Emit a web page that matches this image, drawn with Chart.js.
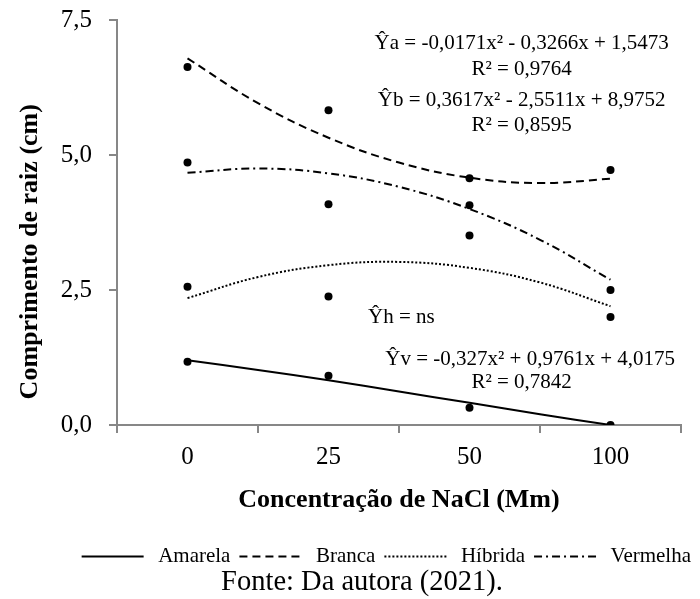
<!DOCTYPE html>
<html>
<head>
<meta charset="utf-8">
<script src="https://cdn.jsdelivr.net/npm/chart.js@4.4.0/dist/chart.umd.min.js"></script>
<style>
  html, body { margin: 0; padding: 0; background: #fff; }
  #wrap { width: 700px; height: 599px; }
</style>
</head>
<body>
<div id="wrap"><canvas id="chart"></canvas></div>
<script>
// categorias do eixo x
var concentracoes = ['0', '25', '50', '100'];

// medias observadas (cm)
var amarela  = [1.17, 0.91, 0.32, 0.00];
var branca   = [6.63, 5.83, 4.57, 4.72];
var hibrida  = [2.56, 2.38, 3.51, 2.00];
var vermelha = [4.86, 4.09, 4.07, 2.50];

// curvas de tendencia (posicoes 1..4 das categorias)
var trendX        = [1, 1.5, 2, 2.5, 3, 3.5, 4];
var trendAmarela  = [1.20, 1.02, 0.83, 0.62, 0.41, 0.20, 0.00];
var trendBranca   = [6.79, 5.96, 5.32, 4.86, 4.58, 4.48, 4.56];
var trendHibrida  = [2.35, 2.74, 2.96, 3.02, 2.91, 2.64, 2.20];
var trendVermelha = [4.67, 4.75, 4.66, 4.41, 4.00, 3.43, 2.69];

var equacoes = [
  '\u0176a = -0,0171x\u00b2 - 0,3266x + 1,5473',
  'R\u00b2 = 0,9764',
  '\u0176b = 0,3617x\u00b2 - 2,5511x + 8,9752',
  'R\u00b2 = 0,8595',
  '\u0176h = ns',
  '\u0176v = -0,327x\u00b2 + 0,9761x + 4,0175',
  'R\u00b2 = 0,7842'
];

var serif = "'Liberation Serif', 'Times New Roman', serif";
var axisGrey = '#878787';

function pairs(xs, ys) {
  return ys.map(function(y, i) { return {x: xs[i], y: y}; });
}
var catX = concentracoes.map(function(c, i) { return i + 1; });

function trend(label, xs, ys, dash) {
  return {
    type: 'line', label: label, data: pairs(xs, ys),
    borderColor: '#000', backgroundColor: 'transparent',
    borderWidth: 2, borderDash: dash, tension: 0.4,
    pointRadius: 0, fill: false
  };
}
function dots(label, ys) {
  return {
    type: 'scatter', label: label, data: pairs(catX, ys),
    backgroundColor: '#000', borderColor: '#000',
    pointRadius: 4, borderWidth: 0, showLine: false
  };
}

// posicoes dos textos das equacoes (em coordenadas do grafico)
var eqPos = [
  {x: 3.37, y: 7.07, align: 'center'},
  {x: 3.37, y: 6.59, align: 'center'},
  {x: 3.37, y: 6.01, align: 'center'},
  {x: 3.37, y: 5.54, align: 'center'},
  {x: 2.28, y: 2.00, align: 'left'},
  {x: 3.43, y: 1.22, align: 'center'},
  {x: 3.37, y: 0.79, align: 'center'}
];

var equationLabels = {
  id: 'equationLabels',
  afterDatasetsDraw: function(chart) {
    var ctx = chart.ctx, xs = chart.scales.x, ys = chart.scales.y;
    ctx.save();
    ctx.font = '21px ' + serif;
    ctx.fillStyle = '#000';
    ctx.textBaseline = 'middle';
    equacoes.forEach(function(eq, i) {
      var p = eqPos[i];
      ctx.textAlign = p.align;
      ctx.fillText(eq, xs.getPixelForValue(p.x), ys.getPixelForValue(p.y));
    });
    ctx.restore();
  }
};

// amostras de linha da legenda, com o tracejado de cada serie
var legendLines = {
  id: 'legendLines',
  afterDraw: function(chart) {
    var lg = chart.legend;
    if (!lg || !lg.legendHitBoxes) return;
    var c = chart.ctx;
    lg.legendItems.forEach(function(item, i) {
      var box = lg.legendHitBoxes[i];
      var ds = chart.data.datasets[item.datasetIndex];
      var y = box.top + box.height / 2;
      c.save();
      c.strokeStyle = ds.borderColor;
      c.lineWidth = ds.borderWidth;
      c.setLineDash(ds.borderDash || []);
      c.beginPath();
      c.moveTo(box.left, y);
      c.lineTo(box.left + 62, y);
      c.stroke();
      c.restore();
    });
  }
};

var ctx = document.getElementById('chart').getContext('2d');
var chart = new Chart(ctx, {
  data: {
    datasets: [
      trend('Amarela', trendX, trendAmarela, []),
      trend('Branca', trendX, trendBranca, [8, 5]),
      trend('H\u00edbrida', trendX, trendHibrida, [2, 2]),
      trend('Vermelha', trendX, trendVermelha, [8, 4, 2, 4]),
      dots('Amarela pts', amarela),
      dots('Branca pts', branca),
      dots('H\u00edbrida pts', hibrida),
      dots('Vermelha pts', vermelha)
    ]
  },
  options: {
    responsive: true,
    maintainAspectRatio: false,
    animation: false,
    layout: { padding: { top: 20, left: 24, right: 0, bottom: 0 } },
    scales: {
      x: {
        type: 'linear', min: 0.5, max: 4.5,
        afterFit: function(s) { s.height = 112; },
        ticks: {
          stepSize: 0.5, autoSkip: false, maxRotation: 0, padding: 9,
          color: '#000', font: { family: serif, size: 25 },
          callback: function(v) { return v % 1 === 0 ? concentracoes[v - 1] : ''; }
        },
        grid: {
          drawOnChartArea: false, tickLength: 8, lineWidth: 2,
          tickColor: function(c) { return c.tick && c.tick.value % 1 !== 0 ? axisGrey : 'rgba(0,0,0,0)'; }
        },
        border: { color: axisGrey, width: 2 },
        title: {
          display: true, text: 'Concentra\u00e7\u00e3o de NaCl (Mm)', color: '#000',
          font: { family: serif, size: 26, weight: 'bold', lineHeight: 1.2 },
          padding: { top: 0, bottom: 21 }
        }
      },
      y: {
        min: 0, max: 7.5,
        afterFit: function(s) { s.width = 93; },
        ticks: {
          stepSize: 2.5, padding: 17, color: '#000',
          font: { family: serif, size: 25, lineHeight: 0.1 },
          callback: function(v) { return v.toFixed(1).replace('.', ','); }
        },
        grid: { drawOnChartArea: false, tickLength: 8, lineWidth: 2, tickColor: axisGrey },
        border: { color: axisGrey, width: 2 },
        title: {
          display: true, text: 'Comprimento de raiz (cm)         ', color: '#000',
          font: { family: serif, size: 26, weight: 'bold', lineHeight: 0.2 },
          padding: { top: 3.5, bottom: 0 }
        }
      },
      yR: {
        position: 'right', display: true,
        afterFit: function(s) { s.width = 19; },
        grid: { display: false }, border: { display: false }, ticks: { display: false }
      }
    },
    plugins: {
      legend: {
        position: 'bottom', align: 'end',
        labels: {
          generateLabels: function(chart) {
            return Chart.defaults.plugins.legend.labels.generateLabels(chart)
              .filter(function(it) { return it.datasetIndex < 4; })
              .map(function(it) {
                it.fillStyle = 'rgba(0,0,0,0)';
                it.strokeStyle = 'rgba(0,0,0,0)';
                it.lineWidth = 0;
                return it;
              });
          },
          boxWidth: 66, padding: 9, color: '#000',
          font: { family: serif, size: 21, lineHeight: 1 }
        }
      },
      title: {
        display: true, position: 'bottom', text: 'Fonte: Da autora (2021).',
        color: '#000', font: { family: serif, size: 28.5, weight: 'normal', lineHeight: 0.4 },
        padding: { top: 0, bottom: 10.6 }
      },
      tooltip: { enabled: false }
    }
  },
  plugins: [equationLabels, legendLines]
});
</script>
</body>
</html>
